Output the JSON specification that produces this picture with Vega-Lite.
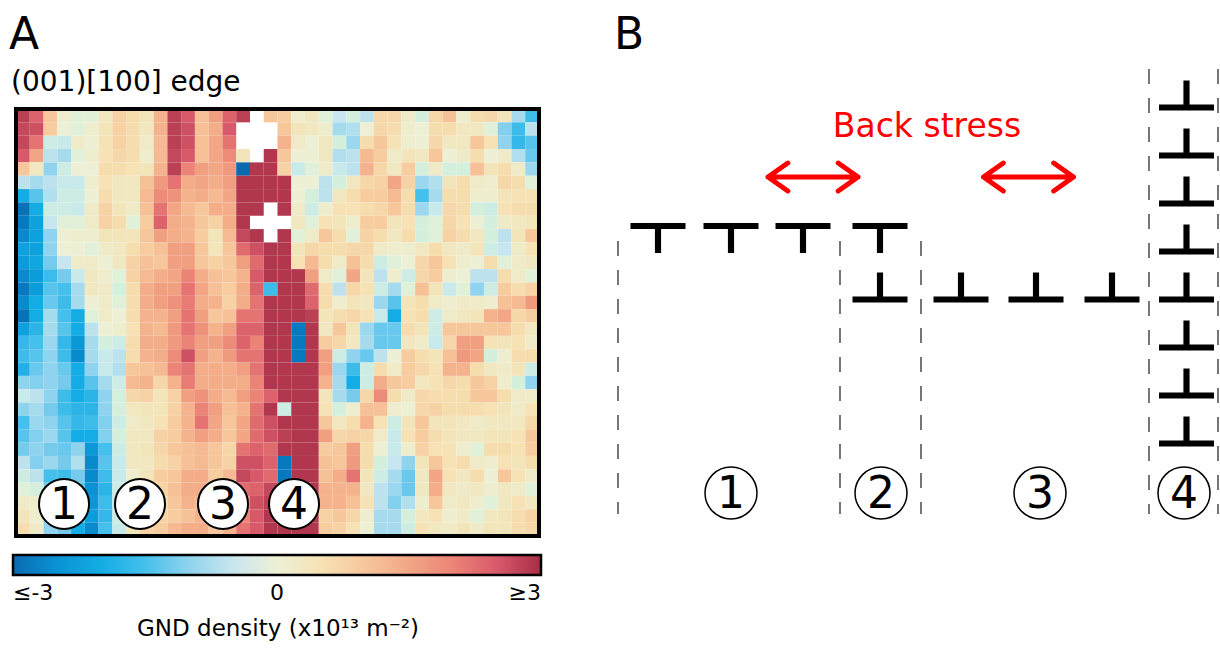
{
"$schema": "https://vega.github.io/schema/vega-lite/v6.json",
"background": "white",
"padding": {"left": 8, "top": 13, "right": 0, "bottom": 0},
"bounds": "flush",
"spacing": 62,
"config": {"font": "DejaVu Sans", "view": {"stroke": null}, "legend": {"labelFontSize": 22, "titleFontSize": 23, "titleLimit": 1000, "labelLimit": 200}},
"datasets": {
"grid": [
{"r":0,"c":0,"v":2.8},{"r":0,"c":1,"v":2.4},{"r":0,"c":2,"v":1.0},{"r":0,"c":3,"v":0.1},{"r":0,"c":4,"v":-0.1},{"r":0,"c":5,"v":-0.1},{"r":0,"c":6,"v":0.3},{"r":0,"c":7,"v":0.8},{"r":0,"c":8,"v":0.6},{"r":0,"c":9,"v":0.4},{"r":0,"c":10,"v":1.3},{"r":0,"c":11,"v":2.8},{"r":0,"c":12,"v":2.5},{"r":0,"c":13,"v":1.1},{"r":0,"c":14,"v":1.6},{"r":0,"c":15,"v":2.4},{"r":0,"c":16,"v":2.8},{"r":0,"c":18,"v":1.0},{"r":0,"c":19,"v":0.9},{"r":0,"c":20,"v":0.1},{"r":0,"c":21,"v":0.3},{"r":0,"c":22,"v":-0.1},{"r":0,"c":23,"v":-0.5},{"r":0,"c":24,"v":-0.2},{"r":0,"c":25,"v":-0.6},{"r":0,"c":26,"v":0.7},{"r":0,"c":27,"v":0.7},{"r":0,"c":28,"v":0.2},{"r":0,"c":29,"v":-0.2},{"r":0,"c":30,"v":0.7},{"r":0,"c":31,"v":1.1},{"r":0,"c":32,"v":0.1},{"r":0,"c":33,"v":0.6},{"r":0,"c":34,"v":0.7},{"r":0,"c":35,"v":0.4},{"r":0,"c":36,"v":-0.8},{"r":0,"c":37,"v":-1.6},
{"r":1,"c":0,"v":2.7},{"r":1,"c":1,"v":2.6},{"r":1,"c":2,"v":0.9},{"r":1,"c":3,"v":0.0},{"r":1,"c":4,"v":-0.1},{"r":1,"c":5,"v":0.1},{"r":1,"c":6,"v":0.4},{"r":1,"c":7,"v":0.8},{"r":1,"c":8,"v":0.6},{"r":1,"c":9,"v":0.3},{"r":1,"c":10,"v":1.3},{"r":1,"c":11,"v":2.8},{"r":1,"c":12,"v":2.6},{"r":1,"c":13,"v":1.1},{"r":1,"c":14,"v":1.4},{"r":1,"c":15,"v":2.5},{"r":1,"c":19,"v":1.0},{"r":1,"c":20,"v":0.4},{"r":1,"c":21,"v":0.3},{"r":1,"c":22,"v":0.1},{"r":1,"c":23,"v":-0.8},{"r":1,"c":24,"v":-0.7},{"r":1,"c":25,"v":0.0},{"r":1,"c":26,"v":0.7},{"r":1,"c":27,"v":0.6},{"r":1,"c":28,"v":0.1},{"r":1,"c":29,"v":0.0},{"r":1,"c":30,"v":0.6},{"r":1,"c":31,"v":0.6},{"r":1,"c":32,"v":0.3},{"r":1,"c":33,"v":0.3},{"r":1,"c":34,"v":-0.1},{"r":1,"c":35,"v":-1.1},{"r":1,"c":36,"v":-1.6},{"r":1,"c":37,"v":-0.6},
{"r":2,"c":0,"v":2.7},{"r":2,"c":1,"v":2.2},{"r":2,"c":2,"v":-0.3},{"r":2,"c":3,"v":-0.4},{"r":2,"c":4,"v":0.2},{"r":2,"c":5,"v":0.0},{"r":2,"c":6,"v":0.5},{"r":2,"c":7,"v":0.8},{"r":2,"c":8,"v":0.6},{"r":2,"c":9,"v":0.2},{"r":2,"c":10,"v":1.2},{"r":2,"c":11,"v":2.8},{"r":2,"c":12,"v":2.6},{"r":2,"c":13,"v":1.1},{"r":2,"c":14,"v":1.5},{"r":2,"c":15,"v":2.2},{"r":2,"c":19,"v":1.3},{"r":2,"c":20,"v":0.2},{"r":2,"c":21,"v":0.0},{"r":2,"c":22,"v":0.3},{"r":2,"c":23,"v":-0.2},{"r":2,"c":24,"v":-0.9},{"r":2,"c":25,"v":0.6},{"r":2,"c":26,"v":1.0},{"r":2,"c":27,"v":0.5},{"r":2,"c":28,"v":0.1},{"r":2,"c":29,"v":0.0},{"r":2,"c":30,"v":0.7},{"r":2,"c":31,"v":0.3},{"r":2,"c":32,"v":0.3},{"r":2,"c":33,"v":1.0},{"r":2,"c":34,"v":0.5},{"r":2,"c":35,"v":-1.0},{"r":2,"c":36,"v":-1.7},{"r":2,"c":37,"v":-1.4},
{"r":3,"c":0,"v":2.5},{"r":3,"c":1,"v":1.5},{"r":3,"c":2,"v":-0.6},{"r":3,"c":3,"v":-0.8},{"r":3,"c":4,"v":-0.1},{"r":3,"c":5,"v":0.1},{"r":3,"c":6,"v":0.5},{"r":3,"c":7,"v":0.7},{"r":3,"c":8,"v":0.6},{"r":3,"c":9,"v":0.1},{"r":3,"c":10,"v":1.2},{"r":3,"c":11,"v":2.7},{"r":3,"c":12,"v":2.5},{"r":3,"c":13,"v":1.1},{"r":3,"c":14,"v":1.5},{"r":3,"c":15,"v":1.9},{"r":3,"c":16,"v":0.4},{"r":3,"c":18,"v":2.9},{"r":3,"c":19,"v":1.0},{"r":3,"c":20,"v":0.0},{"r":3,"c":21,"v":0.0},{"r":3,"c":22,"v":0.3},{"r":3,"c":23,"v":-0.7},{"r":3,"c":24,"v":-0.6},{"r":3,"c":25,"v":1.2},{"r":3,"c":26,"v":0.9},{"r":3,"c":27,"v":0.2},{"r":3,"c":28,"v":0.4},{"r":3,"c":29,"v":0.3},{"r":3,"c":30,"v":1.0},{"r":3,"c":31,"v":0.0},{"r":3,"c":32,"v":0.2},{"r":3,"c":33,"v":0.6},{"r":3,"c":34,"v":0.0},{"r":3,"c":35,"v":0.2},{"r":3,"c":36,"v":-0.7},{"r":3,"c":37,"v":-1.3},
{"r":4,"c":0,"v":1.0},{"r":4,"c":1,"v":0.3},{"r":4,"c":2,"v":-1.0},{"r":4,"c":3,"v":-0.3},{"r":4,"c":4,"v":0.0},{"r":4,"c":5,"v":0.0},{"r":4,"c":6,"v":0.6},{"r":4,"c":7,"v":0.6},{"r":4,"c":8,"v":0.5},{"r":4,"c":9,"v":0.4},{"r":4,"c":10,"v":1.3},{"r":4,"c":11,"v":2.8},{"r":4,"c":12,"v":2.0},{"r":4,"c":13,"v":1.6},{"r":4,"c":14,"v":1.5},{"r":4,"c":15,"v":1.7},{"r":4,"c":16,"v":-3.0},{"r":4,"c":17,"v":2.9},{"r":4,"c":18,"v":2.9},{"r":4,"c":19,"v":0.8},{"r":4,"c":20,"v":-0.4},{"r":4,"c":21,"v":-0.1},{"r":4,"c":22,"v":0.2},{"r":4,"c":23,"v":-0.4},{"r":4,"c":24,"v":-0.6},{"r":4,"c":25,"v":1.3},{"r":4,"c":26,"v":0.7},{"r":4,"c":27,"v":0.3},{"r":4,"c":28,"v":0.9},{"r":4,"c":29,"v":-0.2},{"r":4,"c":30,"v":0.2},{"r":4,"c":31,"v":-0.2},{"r":4,"c":32,"v":-0.2},{"r":4,"c":33,"v":1.1},{"r":4,"c":34,"v":0.4},{"r":4,"c":35,"v":0.6},{"r":4,"c":36,"v":0.2},{"r":4,"c":37,"v":-0.9},
{"r":5,"c":0,"v":-0.6},{"r":5,"c":1,"v":-0.8},{"r":5,"c":2,"v":-0.6},{"r":5,"c":3,"v":-0.4},{"r":5,"c":4,"v":-0.4},{"r":5,"c":5,"v":0.1},{"r":5,"c":6,"v":0.5},{"r":5,"c":7,"v":0.3},{"r":5,"c":8,"v":0.3},{"r":5,"c":9,"v":1.1},{"r":5,"c":10,"v":1.7},{"r":5,"c":11,"v":2.2},{"r":5,"c":12,"v":1.4},{"r":5,"c":13,"v":1.5},{"r":5,"c":14,"v":1.4},{"r":5,"c":15,"v":1.6},{"r":5,"c":16,"v":2.9},{"r":5,"c":17,"v":2.9},{"r":5,"c":18,"v":2.9},{"r":5,"c":19,"v":2.9},{"r":5,"c":20,"v":0.0},{"r":5,"c":21,"v":0.0},{"r":5,"c":22,"v":-0.6},{"r":5,"c":23,"v":-0.2},{"r":5,"c":24,"v":0.3},{"r":5,"c":25,"v":0.7},{"r":5,"c":26,"v":0.8},{"r":5,"c":27,"v":1.5},{"r":5,"c":28,"v":0.8},{"r":5,"c":29,"v":-0.9},{"r":5,"c":30,"v":-0.7},{"r":5,"c":31,"v":0.4},{"r":5,"c":32,"v":0.6},{"r":5,"c":33,"v":0.2},{"r":5,"c":34,"v":0.1},{"r":5,"c":35,"v":0.7},{"r":5,"c":36,"v":0.6},{"r":5,"c":37,"v":-0.1},
{"r":6,"c":0,"v":-2.0},{"r":6,"c":1,"v":-1.4},{"r":6,"c":2,"v":-0.7},{"r":6,"c":3,"v":-0.3},{"r":6,"c":4,"v":-0.3},{"r":6,"c":5,"v":0.0},{"r":6,"c":6,"v":0.6},{"r":6,"c":7,"v":0.3},{"r":6,"c":8,"v":0.3},{"r":6,"c":9,"v":1.2},{"r":6,"c":10,"v":1.9},{"r":6,"c":11,"v":1.8},{"r":6,"c":12,"v":1.3},{"r":6,"c":13,"v":1.4},{"r":6,"c":14,"v":1.2},{"r":6,"c":15,"v":1.5},{"r":6,"c":16,"v":2.9},{"r":6,"c":17,"v":2.9},{"r":6,"c":18,"v":2.9},{"r":6,"c":19,"v":2.9},{"r":6,"c":20,"v":0.0},{"r":6,"c":21,"v":-0.2},{"r":6,"c":22,"v":-0.6},{"r":6,"c":23,"v":0.3},{"r":6,"c":24,"v":0.6},{"r":6,"c":25,"v":0.9},{"r":6,"c":26,"v":0.9},{"r":6,"c":27,"v":1.2},{"r":6,"c":28,"v":0.6},{"r":6,"c":29,"v":-1.5},{"r":6,"c":30,"v":-0.8},{"r":6,"c":31,"v":0.6},{"r":6,"c":32,"v":0.6},{"r":6,"c":33,"v":0.1},{"r":6,"c":34,"v":0.1},{"r":6,"c":35,"v":0.4},{"r":6,"c":36,"v":0.5},{"r":6,"c":37,"v":0.5},
{"r":7,"c":0,"v":-2.9},{"r":7,"c":1,"v":-2.0},{"r":7,"c":2,"v":-0.3},{"r":7,"c":3,"v":-0.3},{"r":7,"c":4,"v":-0.4},{"r":7,"c":5,"v":0.2},{"r":7,"c":6,"v":0.8},{"r":7,"c":7,"v":0.4},{"r":7,"c":8,"v":0.2},{"r":7,"c":9,"v":1.1},{"r":7,"c":10,"v":2.2},{"r":7,"c":11,"v":1.5},{"r":7,"c":12,"v":1.2},{"r":7,"c":13,"v":1.0},{"r":7,"c":14,"v":1.4},{"r":7,"c":15,"v":1.4},{"r":7,"c":16,"v":2.9},{"r":7,"c":17,"v":2.9},{"r":7,"c":19,"v":2.9},{"r":7,"c":20,"v":0.2},{"r":7,"c":21,"v":-0.3},{"r":7,"c":22,"v":0.1},{"r":7,"c":23,"v":0.5},{"r":7,"c":24,"v":0.5},{"r":7,"c":25,"v":0.6},{"r":7,"c":26,"v":0.7},{"r":7,"c":27,"v":1.0},{"r":7,"c":28,"v":0.6},{"r":7,"c":29,"v":-0.9},{"r":7,"c":30,"v":-0.4},{"r":7,"c":31,"v":0.7},{"r":7,"c":32,"v":0.6},{"r":7,"c":33,"v":-0.2},{"r":7,"c":34,"v":-0.3},{"r":7,"c":35,"v":0.5},{"r":7,"c":36,"v":0.6},{"r":7,"c":37,"v":0.6},
{"r":8,"c":0,"v":-2.8},{"r":8,"c":1,"v":-2.2},{"r":8,"c":2,"v":-0.5},{"r":8,"c":3,"v":-0.1},{"r":8,"c":4,"v":-0.1},{"r":8,"c":5,"v":0.2},{"r":8,"c":6,"v":0.8},{"r":8,"c":7,"v":0.6},{"r":8,"c":8,"v":-0.1},{"r":8,"c":9,"v":0.9},{"r":8,"c":10,"v":2.4},{"r":8,"c":11,"v":1.4},{"r":8,"c":12,"v":1.3},{"r":8,"c":13,"v":1.0},{"r":8,"c":14,"v":0.8},{"r":8,"c":15,"v":1.4},{"r":8,"c":16,"v":2.9},{"r":8,"c":20,"v":0.3},{"r":8,"c":21,"v":-0.1},{"r":8,"c":22,"v":0.5},{"r":8,"c":23,"v":0.4},{"r":8,"c":24,"v":0.1},{"r":8,"c":25,"v":0.9},{"r":8,"c":26,"v":0.9},{"r":8,"c":27,"v":0.4},{"r":8,"c":28,"v":0.5},{"r":8,"c":29,"v":-0.2},{"r":8,"c":30,"v":-0.1},{"r":8,"c":31,"v":0.7},{"r":8,"c":32,"v":0.5},{"r":8,"c":33,"v":0.0},{"r":8,"c":34,"v":-0.2},{"r":8,"c":35,"v":0.2},{"r":8,"c":36,"v":0.3},{"r":8,"c":37,"v":0.4},
{"r":9,"c":0,"v":-2.6},{"r":9,"c":1,"v":-2.2},{"r":9,"c":2,"v":-1.0},{"r":9,"c":3,"v":0.0},{"r":9,"c":4,"v":0.1},{"r":9,"c":5,"v":0.1},{"r":9,"c":6,"v":0.4},{"r":9,"c":7,"v":0.4},{"r":9,"c":8,"v":0.4},{"r":9,"c":9,"v":1.0},{"r":9,"c":10,"v":1.6},{"r":9,"c":11,"v":1.4},{"r":9,"c":12,"v":1.3},{"r":9,"c":13,"v":0.9},{"r":9,"c":14,"v":0.4},{"r":9,"c":15,"v":1.2},{"r":9,"c":16,"v":2.7},{"r":9,"c":17,"v":2.9},{"r":9,"c":19,"v":2.9},{"r":9,"c":20,"v":-0.1},{"r":9,"c":21,"v":0.2},{"r":9,"c":22,"v":1.0},{"r":9,"c":23,"v":0.6},{"r":9,"c":24,"v":-0.1},{"r":9,"c":25,"v":0.8},{"r":9,"c":26,"v":0.6},{"r":9,"c":27,"v":0.3},{"r":9,"c":28,"v":0.6},{"r":9,"c":29,"v":-0.2},{"r":9,"c":30,"v":-0.1},{"r":9,"c":31,"v":0.8},{"r":9,"c":32,"v":0.6},{"r":9,"c":33,"v":0.3},{"r":9,"c":34,"v":-0.2},{"r":9,"c":35,"v":-0.6},{"r":9,"c":36,"v":0.4},{"r":9,"c":37,"v":1.0},
{"r":10,"c":0,"v":-2.2},{"r":10,"c":1,"v":-2.2},{"r":10,"c":2,"v":-1.0},{"r":10,"c":3,"v":0.0},{"r":10,"c":4,"v":0.0},{"r":10,"c":5,"v":-0.1},{"r":10,"c":6,"v":0.2},{"r":10,"c":7,"v":0.3},{"r":10,"c":8,"v":0.6},{"r":10,"c":9,"v":0.9},{"r":10,"c":10,"v":1.1},{"r":10,"c":11,"v":1.6},{"r":10,"c":12,"v":1.6},{"r":10,"c":13,"v":1.0},{"r":10,"c":14,"v":0.4},{"r":10,"c":15,"v":1.0},{"r":10,"c":16,"v":2.3},{"r":10,"c":17,"v":2.6},{"r":10,"c":18,"v":2.9},{"r":10,"c":19,"v":2.9},{"r":10,"c":20,"v":0.4},{"r":10,"c":21,"v":0.7},{"r":10,"c":22,"v":0.6},{"r":10,"c":23,"v":0.6},{"r":10,"c":24,"v":0.7},{"r":10,"c":25,"v":0.7},{"r":10,"c":26,"v":0.2},{"r":10,"c":27,"v":0.1},{"r":10,"c":28,"v":0.1},{"r":10,"c":29,"v":0.3},{"r":10,"c":30,"v":0.6},{"r":10,"c":31,"v":0.3},{"r":10,"c":32,"v":0.2},{"r":10,"c":33,"v":0.4},{"r":10,"c":34,"v":-0.3},{"r":10,"c":35,"v":-0.5},{"r":10,"c":36,"v":0.2},{"r":10,"c":37,"v":0.5},
{"r":11,"c":0,"v":-2.3},{"r":11,"c":1,"v":-2.1},{"r":11,"c":2,"v":-1.2},{"r":11,"c":3,"v":-0.5},{"r":11,"c":4,"v":0.2},{"r":11,"c":5,"v":0.2},{"r":11,"c":6,"v":0.0},{"r":11,"c":7,"v":0.3},{"r":11,"c":8,"v":0.8},{"r":11,"c":9,"v":1.1},{"r":11,"c":10,"v":1.0},{"r":11,"c":11,"v":1.6},{"r":11,"c":12,"v":1.6},{"r":11,"c":13,"v":1.0},{"r":11,"c":14,"v":0.8},{"r":11,"c":15,"v":1.0},{"r":11,"c":16,"v":1.6},{"r":11,"c":17,"v":2.3},{"r":11,"c":18,"v":2.9},{"r":11,"c":19,"v":2.9},{"r":11,"c":20,"v":0.5},{"r":11,"c":21,"v":1.2},{"r":11,"c":22,"v":0.6},{"r":11,"c":23,"v":0.2},{"r":11,"c":24,"v":1.1},{"r":11,"c":25,"v":0.6},{"r":11,"c":26,"v":-0.3},{"r":11,"c":27,"v":-0.1},{"r":11,"c":28,"v":0.0},{"r":11,"c":29,"v":0.7},{"r":11,"c":30,"v":1.0},{"r":11,"c":31,"v":0.5},{"r":11,"c":32,"v":0.1},{"r":11,"c":33,"v":0.0},{"r":11,"c":34,"v":0.6},{"r":11,"c":35,"v":-0.1},{"r":11,"c":36,"v":0.2},{"r":11,"c":37,"v":0.3},
{"r":12,"c":0,"v":-2.6},{"r":12,"c":1,"v":-2.3},{"r":12,"c":2,"v":-1.6},{"r":12,"c":3,"v":-1.2},{"r":12,"c":4,"v":-0.4},{"r":12,"c":5,"v":0.3},{"r":12,"c":6,"v":0.1},{"r":12,"c":7,"v":-0.1},{"r":12,"c":8,"v":0.8},{"r":12,"c":9,"v":1.2},{"r":12,"c":10,"v":1.4},{"r":12,"c":11,"v":1.5},{"r":12,"c":12,"v":2.0},{"r":12,"c":13,"v":1.4},{"r":12,"c":14,"v":1.1},{"r":12,"c":15,"v":1.0},{"r":12,"c":16,"v":1.3},{"r":12,"c":17,"v":2.5},{"r":12,"c":18,"v":2.9},{"r":12,"c":19,"v":2.9},{"r":12,"c":20,"v":2.9},{"r":12,"c":21,"v":1.6},{"r":12,"c":22,"v":0.2},{"r":12,"c":23,"v":-0.1},{"r":12,"c":24,"v":1.5},{"r":12,"c":25,"v":0.4},{"r":12,"c":26,"v":-0.6},{"r":12,"c":27,"v":0.1},{"r":12,"c":28,"v":-0.3},{"r":12,"c":29,"v":0.7},{"r":12,"c":30,"v":0.9},{"r":12,"c":31,"v":0.1},{"r":12,"c":32,"v":0.0},{"r":12,"c":33,"v":-0.6},{"r":12,"c":34,"v":-0.6},{"r":12,"c":35,"v":0.6},{"r":12,"c":36,"v":0.2},{"r":12,"c":37,"v":-0.1},
{"r":13,"c":0,"v":-2.8},{"r":13,"c":1,"v":-2.3},{"r":13,"c":2,"v":-1.4},{"r":13,"c":3,"v":-1.5},{"r":13,"c":4,"v":-0.8},{"r":13,"c":5,"v":0.3},{"r":13,"c":6,"v":0.2},{"r":13,"c":7,"v":-0.2},{"r":13,"c":8,"v":0.6},{"r":13,"c":9,"v":1.4},{"r":13,"c":10,"v":1.6},{"r":13,"c":11,"v":1.6},{"r":13,"c":12,"v":2.2},{"r":13,"c":13,"v":1.5},{"r":13,"c":14,"v":1.1},{"r":13,"c":15,"v":0.9},{"r":13,"c":16,"v":1.4},{"r":13,"c":17,"v":2.4},{"r":13,"c":18,"v":-1.6},{"r":13,"c":19,"v":2.9},{"r":13,"c":20,"v":2.9},{"r":13,"c":21,"v":2.3},{"r":13,"c":22,"v":0.6},{"r":13,"c":23,"v":-0.6},{"r":13,"c":24,"v":0.7},{"r":13,"c":25,"v":0.5},{"r":13,"c":26,"v":-0.3},{"r":13,"c":27,"v":-0.8},{"r":13,"c":28,"v":-0.1},{"r":13,"c":29,"v":1.1},{"r":13,"c":30,"v":0.4},{"r":13,"c":31,"v":-0.4},{"r":13,"c":32,"v":-0.1},{"r":13,"c":33,"v":-1.0},{"r":13,"c":34,"v":-0.3},{"r":13,"c":35,"v":0.9},{"r":13,"c":36,"v":0.6},{"r":13,"c":37,"v":0.8},
{"r":14,"c":0,"v":-2.6},{"r":14,"c":1,"v":-2.0},{"r":14,"c":2,"v":-1.3},{"r":14,"c":3,"v":-1.6},{"r":14,"c":4,"v":-0.8},{"r":14,"c":5,"v":0.0},{"r":14,"c":6,"v":0.2},{"r":14,"c":7,"v":-0.1},{"r":14,"c":8,"v":0.6},{"r":14,"c":9,"v":1.4},{"r":14,"c":10,"v":1.6},{"r":14,"c":11,"v":1.8},{"r":14,"c":12,"v":2.1},{"r":14,"c":13,"v":1.4},{"r":14,"c":14,"v":1.3},{"r":14,"c":15,"v":0.8},{"r":14,"c":16,"v":1.4},{"r":14,"c":17,"v":2.2},{"r":14,"c":18,"v":2.9},{"r":14,"c":19,"v":2.9},{"r":14,"c":20,"v":2.9},{"r":14,"c":21,"v":2.4},{"r":14,"c":22,"v":0.6},{"r":14,"c":23,"v":0.1},{"r":14,"c":24,"v":0.4},{"r":14,"c":25,"v":0.3},{"r":14,"c":26,"v":-0.9},{"r":14,"c":27,"v":-1.4},{"r":14,"c":28,"v":0.4},{"r":14,"c":29,"v":0.6},{"r":14,"c":30,"v":0.2},{"r":14,"c":31,"v":0.1},{"r":14,"c":32,"v":0.2},{"r":14,"c":33,"v":0.2},{"r":14,"c":34,"v":0.1},{"r":14,"c":35,"v":1.1},{"r":14,"c":36,"v":1.2},{"r":14,"c":37,"v":1.7},
{"r":15,"c":0,"v":-2.9},{"r":15,"c":1,"v":-2.0},{"r":15,"c":2,"v":-0.8},{"r":15,"c":3,"v":-1.5},{"r":15,"c":4,"v":-2.0},{"r":15,"c":5,"v":-0.1},{"r":15,"c":6,"v":0.2},{"r":15,"c":7,"v":0.0},{"r":15,"c":8,"v":0.6},{"r":15,"c":9,"v":1.3},{"r":15,"c":10,"v":1.3},{"r":15,"c":11,"v":1.6},{"r":15,"c":12,"v":2.2},{"r":15,"c":13,"v":1.6},{"r":15,"c":14,"v":1.0},{"r":15,"c":15,"v":1.1},{"r":15,"c":16,"v":2.2},{"r":15,"c":17,"v":2.2},{"r":15,"c":18,"v":2.9},{"r":15,"c":19,"v":2.9},{"r":15,"c":20,"v":2.9},{"r":15,"c":21,"v":2.8},{"r":15,"c":22,"v":0.4},{"r":15,"c":23,"v":0.6},{"r":15,"c":24,"v":0.7},{"r":15,"c":25,"v":0.5},{"r":15,"c":26,"v":-0.4},{"r":15,"c":27,"v":-2.0},{"r":15,"c":28,"v":0.5},{"r":15,"c":29,"v":0.6},{"r":15,"c":30,"v":-0.3},{"r":15,"c":31,"v":0.2},{"r":15,"c":32,"v":0.3},{"r":15,"c":33,"v":0.4},{"r":15,"c":34,"v":1.3},{"r":15,"c":35,"v":1.5},{"r":15,"c":36,"v":0.7},{"r":15,"c":37,"v":0.9},
{"r":16,"c":0,"v":-2.2},{"r":16,"c":1,"v":-1.8},{"r":16,"c":2,"v":-0.8},{"r":16,"c":3,"v":-1.4},{"r":16,"c":4,"v":-2.0},{"r":16,"c":5,"v":-0.6},{"r":16,"c":6,"v":0.0},{"r":16,"c":7,"v":0.1},{"r":16,"c":8,"v":0.5},{"r":16,"c":9,"v":1.3},{"r":16,"c":10,"v":1.2},{"r":16,"c":11,"v":1.7},{"r":16,"c":12,"v":2.2},{"r":16,"c":13,"v":1.8},{"r":16,"c":14,"v":1.3},{"r":16,"c":15,"v":1.6},{"r":16,"c":16,"v":2.4},{"r":16,"c":17,"v":2.4},{"r":16,"c":18,"v":2.9},{"r":16,"c":19,"v":2.9},{"r":16,"c":20,"v":-2.8},{"r":16,"c":21,"v":2.9},{"r":16,"c":22,"v":0.3},{"r":16,"c":23,"v":1.0},{"r":16,"c":24,"v":0.4},{"r":16,"c":25,"v":-0.9},{"r":16,"c":26,"v":-1.3},{"r":16,"c":27,"v":-1.3},{"r":16,"c":28,"v":0.6},{"r":16,"c":29,"v":0.4},{"r":16,"c":30,"v":-0.3},{"r":16,"c":31,"v":1.0},{"r":16,"c":32,"v":1.0},{"r":16,"c":33,"v":1.0},{"r":16,"c":34,"v":1.0},{"r":16,"c":35,"v":1.0},{"r":16,"c":36,"v":0.6},{"r":16,"c":37,"v":0.3},
{"r":17,"c":0,"v":-1.7},{"r":17,"c":1,"v":-1.5},{"r":17,"c":2,"v":-0.9},{"r":17,"c":3,"v":-1.7},{"r":17,"c":4,"v":-2.4},{"r":17,"c":5,"v":-0.8},{"r":17,"c":6,"v":-0.2},{"r":17,"c":7,"v":-0.3},{"r":17,"c":8,"v":0.6},{"r":17,"c":9,"v":1.4},{"r":17,"c":10,"v":1.4},{"r":17,"c":11,"v":1.7},{"r":17,"c":12,"v":2.0},{"r":17,"c":13,"v":1.6},{"r":17,"c":14,"v":1.6},{"r":17,"c":15,"v":1.9},{"r":17,"c":16,"v":2.4},{"r":17,"c":17,"v":2.0},{"r":17,"c":18,"v":2.9},{"r":17,"c":19,"v":2.9},{"r":17,"c":20,"v":-2.8},{"r":17,"c":21,"v":2.9},{"r":17,"c":22,"v":0.9},{"r":17,"c":23,"v":0.7},{"r":17,"c":24,"v":0.3},{"r":17,"c":25,"v":-0.8},{"r":17,"c":26,"v":-1.3},{"r":17,"c":27,"v":-1.3},{"r":17,"c":28,"v":0.3},{"r":17,"c":29,"v":0.2},{"r":17,"c":30,"v":-0.4},{"r":17,"c":31,"v":0.7},{"r":17,"c":32,"v":1.6},{"r":17,"c":33,"v":1.6},{"r":17,"c":34,"v":0.5},{"r":17,"c":35,"v":0.4},{"r":17,"c":36,"v":0.5},{"r":17,"c":37,"v":0.2},
{"r":18,"c":0,"v":-1.6},{"r":18,"c":1,"v":-1.4},{"r":18,"c":2,"v":-1.0},{"r":18,"c":3,"v":-1.6},{"r":18,"c":4,"v":-2.6},{"r":18,"c":5,"v":-0.8},{"r":18,"c":6,"v":-0.4},{"r":18,"c":7,"v":-0.6},{"r":18,"c":8,"v":0.6},{"r":18,"c":9,"v":1.3},{"r":18,"c":10,"v":1.4},{"r":18,"c":11,"v":1.9},{"r":18,"c":12,"v":2.6},{"r":18,"c":13,"v":1.6},{"r":18,"c":14,"v":1.3},{"r":18,"c":15,"v":1.7},{"r":18,"c":16,"v":2.2},{"r":18,"c":17,"v":2.2},{"r":18,"c":18,"v":2.9},{"r":18,"c":19,"v":2.9},{"r":18,"c":20,"v":-2.8},{"r":18,"c":21,"v":2.9},{"r":18,"c":22,"v":1.6},{"r":18,"c":23,"v":-0.3},{"r":18,"c":24,"v":-1.0},{"r":18,"c":25,"v":-1.3},{"r":18,"c":26,"v":-0.6},{"r":18,"c":27,"v":0.0},{"r":18,"c":28,"v":0.9},{"r":18,"c":29,"v":0.6},{"r":18,"c":30,"v":0.4},{"r":18,"c":31,"v":1.1},{"r":18,"c":32,"v":1.7},{"r":18,"c":33,"v":1.5},{"r":18,"c":34,"v":-0.2},{"r":18,"c":35,"v":0.1},{"r":18,"c":36,"v":0.6},{"r":18,"c":37,"v":0.6},
{"r":19,"c":0,"v":-1.9},{"r":19,"c":1,"v":-1.3},{"r":19,"c":2,"v":-1.0},{"r":19,"c":3,"v":-1.3},{"r":19,"c":4,"v":-2.0},{"r":19,"c":5,"v":-1.0},{"r":19,"c":6,"v":-0.4},{"r":19,"c":7,"v":-0.7},{"r":19,"c":8,"v":1.0},{"r":19,"c":9,"v":1.1},{"r":19,"c":10,"v":1.2},{"r":19,"c":11,"v":2.0},{"r":19,"c":12,"v":2.2},{"r":19,"c":13,"v":1.4},{"r":19,"c":14,"v":1.4},{"r":19,"c":15,"v":1.4},{"r":19,"c":16,"v":1.6},{"r":19,"c":17,"v":2.2},{"r":19,"c":18,"v":2.9},{"r":19,"c":19,"v":2.9},{"r":19,"c":20,"v":2.9},{"r":19,"c":21,"v":2.9},{"r":19,"c":22,"v":1.6},{"r":19,"c":23,"v":-0.9},{"r":19,"c":24,"v":-1.6},{"r":19,"c":25,"v":-0.3},{"r":19,"c":26,"v":0.6},{"r":19,"c":27,"v":0.2},{"r":19,"c":28,"v":0.9},{"r":19,"c":29,"v":0.7},{"r":19,"c":30,"v":0.5},{"r":19,"c":31,"v":1.3},{"r":19,"c":32,"v":1.3},{"r":19,"c":33,"v":0.6},{"r":19,"c":34,"v":0.3},{"r":19,"c":35,"v":0.2},{"r":19,"c":36,"v":0.4},{"r":19,"c":37,"v":-0.3},
{"r":20,"c":0,"v":-1.0},{"r":20,"c":1,"v":-1.1},{"r":20,"c":2,"v":-1.0},{"r":20,"c":3,"v":-1.2},{"r":20,"c":4,"v":-2.0},{"r":20,"c":5,"v":-1.4},{"r":20,"c":6,"v":-0.8},{"r":20,"c":7,"v":-0.3},{"r":20,"c":8,"v":1.2},{"r":20,"c":9,"v":1.3},{"r":20,"c":10,"v":0.7},{"r":20,"c":11,"v":1.3},{"r":20,"c":12,"v":2.1},{"r":20,"c":13,"v":1.4},{"r":20,"c":14,"v":1.4},{"r":20,"c":15,"v":1.4},{"r":20,"c":16,"v":1.4},{"r":20,"c":17,"v":2.0},{"r":20,"c":18,"v":2.9},{"r":20,"c":19,"v":2.9},{"r":20,"c":20,"v":2.9},{"r":20,"c":21,"v":2.9},{"r":20,"c":22,"v":1.3},{"r":20,"c":23,"v":-0.8},{"r":20,"c":24,"v":-2.0},{"r":20,"c":25,"v":-0.3},{"r":20,"c":26,"v":1.4},{"r":20,"c":27,"v":1.0},{"r":20,"c":28,"v":0.9},{"r":20,"c":29,"v":0.3},{"r":20,"c":30,"v":0.5},{"r":20,"c":31,"v":0.7},{"r":20,"c":32,"v":0.6},{"r":20,"c":33,"v":1.0},{"r":20,"c":34,"v":0.8},{"r":20,"c":35,"v":0.1},{"r":20,"c":36,"v":-0.2},{"r":20,"c":37,"v":-1.0},
{"r":21,"c":0,"v":-0.4},{"r":21,"c":1,"v":-0.6},{"r":21,"c":2,"v":-1.0},{"r":21,"c":3,"v":-1.6},{"r":21,"c":4,"v":-2.0},{"r":21,"c":5,"v":-1.8},{"r":21,"c":6,"v":-1.0},{"r":21,"c":7,"v":-0.2},{"r":21,"c":8,"v":0.7},{"r":21,"c":9,"v":0.8},{"r":21,"c":10,"v":0.4},{"r":21,"c":11,"v":0.8},{"r":21,"c":12,"v":1.6},{"r":21,"c":13,"v":1.8},{"r":21,"c":14,"v":1.4},{"r":21,"c":15,"v":1.2},{"r":21,"c":16,"v":1.6},{"r":21,"c":17,"v":2.0},{"r":21,"c":18,"v":2.4},{"r":21,"c":19,"v":2.9},{"r":21,"c":20,"v":2.9},{"r":21,"c":21,"v":2.9},{"r":21,"c":22,"v":0.4},{"r":21,"c":23,"v":-0.8},{"r":21,"c":24,"v":-1.2},{"r":21,"c":25,"v":0.7},{"r":21,"c":26,"v":1.9},{"r":21,"c":27,"v":0.6},{"r":21,"c":28,"v":0.2},{"r":21,"c":29,"v":0.7},{"r":21,"c":30,"v":0.6},{"r":21,"c":31,"v":0.6},{"r":21,"c":32,"v":0.6},{"r":21,"c":33,"v":1.0},{"r":21,"c":34,"v":1.0},{"r":21,"c":35,"v":0.6},{"r":21,"c":36,"v":0.2},{"r":21,"c":37,"v":0.2},
{"r":22,"c":0,"v":-1.0},{"r":22,"c":1,"v":-0.8},{"r":22,"c":2,"v":-1.2},{"r":22,"c":3,"v":-1.6},{"r":22,"c":4,"v":-1.8},{"r":22,"c":5,"v":-1.8},{"r":22,"c":6,"v":-1.0},{"r":22,"c":7,"v":-0.2},{"r":22,"c":8,"v":0.3},{"r":22,"c":9,"v":0.4},{"r":22,"c":10,"v":0.4},{"r":22,"c":11,"v":0.8},{"r":22,"c":12,"v":1.3},{"r":22,"c":13,"v":2.0},{"r":22,"c":14,"v":1.6},{"r":22,"c":15,"v":1.1},{"r":22,"c":16,"v":1.3},{"r":22,"c":17,"v":2.2},{"r":22,"c":18,"v":2.9},{"r":22,"c":19,"v":-0.3},{"r":22,"c":20,"v":2.9},{"r":22,"c":21,"v":2.9},{"r":22,"c":22,"v":0.5},{"r":22,"c":23,"v":-0.2},{"r":22,"c":24,"v":0.1},{"r":22,"c":25,"v":1.1},{"r":22,"c":26,"v":1.1},{"r":22,"c":27,"v":0.1},{"r":22,"c":28,"v":0.0},{"r":22,"c":29,"v":0.7},{"r":22,"c":30,"v":0.8},{"r":22,"c":31,"v":0.6},{"r":22,"c":32,"v":0.6},{"r":22,"c":33,"v":0.6},{"r":22,"c":34,"v":0.5},{"r":22,"c":35,"v":0.4},{"r":22,"c":36,"v":0.2},{"r":22,"c":37,"v":0.5},
{"r":23,"c":0,"v":-1.5},{"r":23,"c":1,"v":-0.9},{"r":23,"c":2,"v":-1.0},{"r":23,"c":3,"v":-1.4},{"r":23,"c":4,"v":-1.7},{"r":23,"c":5,"v":-1.6},{"r":23,"c":6,"v":-1.1},{"r":23,"c":7,"v":-0.3},{"r":23,"c":8,"v":0.2},{"r":23,"c":9,"v":0.3},{"r":23,"c":10,"v":0.5},{"r":23,"c":11,"v":0.9},{"r":23,"c":12,"v":1.3},{"r":23,"c":13,"v":2.2},{"r":23,"c":14,"v":1.5},{"r":23,"c":15,"v":1.0},{"r":23,"c":16,"v":1.5},{"r":23,"c":17,"v":2.3},{"r":23,"c":18,"v":2.6},{"r":23,"c":19,"v":2.9},{"r":23,"c":20,"v":2.9},{"r":23,"c":21,"v":2.9},{"r":23,"c":22,"v":1.0},{"r":23,"c":23,"v":0.3},{"r":23,"c":24,"v":0.6},{"r":23,"c":25,"v":1.3},{"r":23,"c":26,"v":0.5},{"r":23,"c":27,"v":-0.3},{"r":23,"c":28,"v":0.4},{"r":23,"c":29,"v":1.0},{"r":23,"c":30,"v":0.4},{"r":23,"c":31,"v":0.4},{"r":23,"c":32,"v":0.3},{"r":23,"c":33,"v":0.2},{"r":23,"c":34,"v":0.3},{"r":23,"c":35,"v":0.3},{"r":23,"c":36,"v":0.3},{"r":23,"c":37,"v":0.7},
{"r":24,"c":0,"v":-1.4},{"r":24,"c":1,"v":-1.1},{"r":24,"c":2,"v":-0.9},{"r":24,"c":3,"v":-1.4},{"r":24,"c":4,"v":-2.0},{"r":24,"c":5,"v":-2.0},{"r":24,"c":6,"v":-1.1},{"r":24,"c":7,"v":-0.2},{"r":24,"c":8,"v":0.3},{"r":24,"c":9,"v":0.3},{"r":24,"c":10,"v":0.8},{"r":24,"c":11,"v":0.9},{"r":24,"c":12,"v":1.3},{"r":24,"c":13,"v":1.6},{"r":24,"c":14,"v":1.4},{"r":24,"c":15,"v":1.0},{"r":24,"c":16,"v":1.5},{"r":24,"c":17,"v":2.3},{"r":24,"c":18,"v":2.6},{"r":24,"c":19,"v":2.8},{"r":24,"c":20,"v":2.9},{"r":24,"c":21,"v":2.9},{"r":24,"c":22,"v":1.6},{"r":24,"c":23,"v":0.7},{"r":24,"c":24,"v":0.8},{"r":24,"c":25,"v":0.7},{"r":24,"c":26,"v":0.2},{"r":24,"c":27,"v":-0.4},{"r":24,"c":28,"v":0.5},{"r":24,"c":29,"v":0.9},{"r":24,"c":30,"v":0.6},{"r":24,"c":31,"v":0.4},{"r":24,"c":32,"v":0.3},{"r":24,"c":33,"v":0.3},{"r":24,"c":34,"v":0.4},{"r":24,"c":35,"v":0.4},{"r":24,"c":36,"v":0.5},{"r":24,"c":37,"v":1.0},
{"r":25,"c":0,"v":-1.2},{"r":25,"c":1,"v":-1.0},{"r":25,"c":2,"v":-1.2},{"r":25,"c":3,"v":-1.3},{"r":25,"c":4,"v":-1.0},{"r":25,"c":5,"v":-2.4},{"r":25,"c":6,"v":-1.5},{"r":25,"c":7,"v":-0.3},{"r":25,"c":8,"v":0.3},{"r":25,"c":9,"v":0.4},{"r":25,"c":10,"v":0.7},{"r":25,"c":11,"v":1.0},{"r":25,"c":12,"v":1.1},{"r":25,"c":13,"v":1.2},{"r":25,"c":14,"v":1.0},{"r":25,"c":15,"v":0.7},{"r":25,"c":16,"v":2.2},{"r":25,"c":17,"v":2.4},{"r":25,"c":18,"v":2.3},{"r":25,"c":19,"v":2.9},{"r":25,"c":20,"v":2.9},{"r":25,"c":21,"v":2.9},{"r":25,"c":22,"v":0.9},{"r":25,"c":23,"v":1.0},{"r":25,"c":24,"v":1.6},{"r":25,"c":25,"v":0.6},{"r":25,"c":26,"v":0.0},{"r":25,"c":27,"v":-0.4},{"r":25,"c":28,"v":0.1},{"r":25,"c":29,"v":0.8},{"r":25,"c":30,"v":0.5},{"r":25,"c":31,"v":0.5},{"r":25,"c":32,"v":0.1},{"r":25,"c":33,"v":-0.1},{"r":25,"c":34,"v":0.6},{"r":25,"c":35,"v":0.6},{"r":25,"c":36,"v":0.5},{"r":25,"c":37,"v":0.9},
{"r":26,"c":0,"v":-0.6},{"r":26,"c":1,"v":-1.1},{"r":26,"c":2,"v":-0.9},{"r":26,"c":3,"v":-1.2},{"r":26,"c":4,"v":-0.7},{"r":26,"c":5,"v":-2.6},{"r":26,"c":6,"v":-1.4},{"r":26,"c":7,"v":-0.4},{"r":26,"c":8,"v":0.3},{"r":26,"c":9,"v":0.3},{"r":26,"c":10,"v":0.6},{"r":26,"c":11,"v":0.8},{"r":26,"c":12,"v":1.1},{"r":26,"c":13,"v":1.2},{"r":26,"c":14,"v":1.0},{"r":26,"c":15,"v":0.8},{"r":26,"c":16,"v":2.6},{"r":26,"c":17,"v":2.6},{"r":26,"c":18,"v":2.4},{"r":26,"c":19,"v":-2.8},{"r":26,"c":20,"v":2.9},{"r":26,"c":21,"v":2.9},{"r":26,"c":22,"v":1.1},{"r":26,"c":23,"v":1.0},{"r":26,"c":24,"v":1.7},{"r":26,"c":25,"v":0.6},{"r":26,"c":26,"v":-0.2},{"r":26,"c":27,"v":-0.5},{"r":26,"c":28,"v":-1.0},{"r":26,"c":29,"v":0.4},{"r":26,"c":30,"v":1.0},{"r":26,"c":31,"v":0.5},{"r":26,"c":32,"v":0.6},{"r":26,"c":33,"v":0.2},{"r":26,"c":34,"v":0.1},{"r":26,"c":35,"v":0.5},{"r":26,"c":36,"v":0.4},{"r":26,"c":37,"v":0.6},
{"r":27,"c":0,"v":-0.3},{"r":27,"c":1,"v":-0.6},{"r":27,"c":2,"v":-1.5},{"r":27,"c":3,"v":-1.6},{"r":27,"c":4,"v":-1.2},{"r":27,"c":5,"v":-2.6},{"r":27,"c":6,"v":-1.6},{"r":27,"c":7,"v":-0.4},{"r":27,"c":8,"v":0.1},{"r":27,"c":9,"v":0.4},{"r":27,"c":10,"v":0.9},{"r":27,"c":11,"v":1.0},{"r":27,"c":12,"v":1.4},{"r":27,"c":13,"v":1.4},{"r":27,"c":14,"v":0.9},{"r":27,"c":15,"v":1.2},{"r":27,"c":16,"v":2.7},{"r":27,"c":17,"v":2.5},{"r":27,"c":18,"v":2.3},{"r":27,"c":19,"v":-2.8},{"r":27,"c":20,"v":2.9},{"r":27,"c":21,"v":2.9},{"r":27,"c":22,"v":1.1},{"r":27,"c":23,"v":1.4},{"r":27,"c":24,"v":2.2},{"r":27,"c":25,"v":0.4},{"r":27,"c":26,"v":-0.3},{"r":27,"c":27,"v":-0.8},{"r":27,"c":28,"v":-1.3},{"r":27,"c":29,"v":0.3},{"r":27,"c":30,"v":1.5},{"r":27,"c":31,"v":0.5},{"r":27,"c":32,"v":0.3},{"r":27,"c":33,"v":0.6},{"r":27,"c":34,"v":0.0},{"r":27,"c":35,"v":1.0},{"r":27,"c":36,"v":0.5},{"r":27,"c":37,"v":0.2},
{"r":28,"c":0,"v":-0.1},{"r":28,"c":1,"v":-0.2},{"r":28,"c":2,"v":-1.2},{"r":28,"c":3,"v":-1.6},{"r":28,"c":4,"v":-1.4},{"r":28,"c":5,"v":-2.5},{"r":28,"c":6,"v":-1.8},{"r":28,"c":7,"v":-0.3},{"r":28,"c":8,"v":0.2},{"r":28,"c":9,"v":0.5},{"r":28,"c":10,"v":0.8},{"r":28,"c":11,"v":1.1},{"r":28,"c":12,"v":1.4},{"r":28,"c":13,"v":1.4},{"r":28,"c":14,"v":0.9},{"r":28,"c":15,"v":1.0},{"r":28,"c":16,"v":2.3},{"r":28,"c":17,"v":2.4},{"r":28,"c":18,"v":2.7},{"r":28,"c":19,"v":2.9},{"r":28,"c":20,"v":2.9},{"r":28,"c":21,"v":2.9},{"r":28,"c":22,"v":1.3},{"r":28,"c":23,"v":1.3},{"r":28,"c":24,"v":1.3},{"r":28,"c":25,"v":0.3},{"r":28,"c":26,"v":-0.6},{"r":28,"c":27,"v":-0.9},{"r":28,"c":28,"v":-1.3},{"r":28,"c":29,"v":0.3},{"r":28,"c":30,"v":1.4},{"r":28,"c":31,"v":0.3},{"r":28,"c":32,"v":0.2},{"r":28,"c":33,"v":0.3},{"r":28,"c":34,"v":0.1},{"r":28,"c":35,"v":0.3},{"r":28,"c":36,"v":0.2},{"r":28,"c":37,"v":-0.1},
{"r":29,"c":0,"v":0.2},{"r":29,"c":1,"v":0.1},{"r":29,"c":2,"v":-1.4},{"r":29,"c":3,"v":-1.5},{"r":29,"c":4,"v":-1.1},{"r":29,"c":5,"v":-2.4},{"r":29,"c":6,"v":-1.6},{"r":29,"c":7,"v":-0.4},{"r":29,"c":8,"v":0.0},{"r":29,"c":9,"v":0.5},{"r":29,"c":10,"v":0.6},{"r":29,"c":11,"v":1.0},{"r":29,"c":12,"v":1.3},{"r":29,"c":13,"v":1.2},{"r":29,"c":14,"v":0.6},{"r":29,"c":15,"v":1.1},{"r":29,"c":16,"v":1.8},{"r":29,"c":17,"v":2.6},{"r":29,"c":18,"v":2.8},{"r":29,"c":19,"v":2.9},{"r":29,"c":20,"v":2.9},{"r":29,"c":21,"v":2.9},{"r":29,"c":22,"v":1.3},{"r":29,"c":23,"v":1.3},{"r":29,"c":24,"v":1.1},{"r":29,"c":25,"v":0.5},{"r":29,"c":26,"v":-0.6},{"r":29,"c":27,"v":-1.1},{"r":29,"c":28,"v":-0.7},{"r":29,"c":29,"v":0.1},{"r":29,"c":30,"v":1.0},{"r":29,"c":31,"v":0.2},{"r":29,"c":32,"v":0.3},{"r":29,"c":33,"v":0.1},{"r":29,"c":34,"v":-0.1},{"r":29,"c":35,"v":0.3},{"r":29,"c":36,"v":0.5},{"r":29,"c":37,"v":0.3},
{"r":30,"c":0,"v":0.4},{"r":30,"c":1,"v":0.1},{"r":30,"c":2,"v":-1.2},{"r":30,"c":3,"v":-1.3},{"r":30,"c":4,"v":-1.5},{"r":30,"c":5,"v":-2.3},{"r":30,"c":6,"v":-1.7},{"r":30,"c":7,"v":-0.3},{"r":30,"c":8,"v":0.3},{"r":30,"c":9,"v":0.6},{"r":30,"c":10,"v":0.8},{"r":30,"c":11,"v":0.9},{"r":30,"c":12,"v":1.1},{"r":30,"c":13,"v":1.3},{"r":30,"c":14,"v":0.8},{"r":30,"c":15,"v":1.2},{"r":30,"c":16,"v":2.0},{"r":30,"c":17,"v":2.5},{"r":30,"c":18,"v":2.9},{"r":30,"c":19,"v":2.9},{"r":30,"c":20,"v":2.9},{"r":30,"c":21,"v":2.9},{"r":30,"c":22,"v":0.8},{"r":30,"c":23,"v":1.0},{"r":30,"c":24,"v":0.7},{"r":30,"c":25,"v":0.1},{"r":30,"c":26,"v":-0.8},{"r":30,"c":27,"v":-0.8},{"r":30,"c":28,"v":-0.2},{"r":30,"c":29,"v":0.3},{"r":30,"c":30,"v":0.5},{"r":30,"c":31,"v":0.1},{"r":30,"c":32,"v":0.2},{"r":30,"c":33,"v":-0.1},{"r":30,"c":34,"v":0.3},{"r":30,"c":35,"v":0.4},{"r":30,"c":36,"v":0.6},{"r":30,"c":37,"v":0.8},
{"r":31,"c":0,"v":0.6},{"r":31,"c":1,"v":0.2},{"r":31,"c":2,"v":-1.0},{"r":31,"c":3,"v":-1.2},{"r":31,"c":4,"v":-2.0},{"r":31,"c":5,"v":-2.6},{"r":31,"c":6,"v":-1.5},{"r":31,"c":7,"v":-0.4},{"r":31,"c":8,"v":0.4},{"r":31,"c":9,"v":0.8},{"r":31,"c":10,"v":0.9},{"r":31,"c":11,"v":1.2},{"r":31,"c":12,"v":1.4},{"r":31,"c":13,"v":1.4},{"r":31,"c":14,"v":1.0},{"r":31,"c":15,"v":1.3},{"r":31,"c":16,"v":2.2},{"r":31,"c":17,"v":2.5},{"r":31,"c":18,"v":2.9},{"r":31,"c":19,"v":2.9},{"r":31,"c":20,"v":2.9},{"r":31,"c":21,"v":2.9},{"r":31,"c":22,"v":0.9},{"r":31,"c":23,"v":0.8},{"r":31,"c":24,"v":0.5},{"r":31,"c":25,"v":0.0},{"r":31,"c":26,"v":-0.8},{"r":31,"c":27,"v":-0.8},{"r":31,"c":28,"v":-0.3},{"r":31,"c":29,"v":0.5},{"r":31,"c":30,"v":0.3},{"r":31,"c":31,"v":0.2},{"r":31,"c":32,"v":0.4},{"r":31,"c":33,"v":0.2},{"r":31,"c":34,"v":0.4},{"r":31,"c":35,"v":0.4},{"r":31,"c":36,"v":0.6},{"r":31,"c":37,"v":0.7}
],
"leftCircles": [
{"x":3.49,"y":29.6,"t":"1"},{"x":9.01,"y":29.6,"t":"2"},{"x":15.04,"y":29.6,"t":"3"},{"x":20.2,"y":29.6,"t":"4"}
],
"rightCircles": [
{"x":13.0,"y":38.4,"t":"1"},{"x":28.0,"y":38.4,"t":"2"},{"x":43.9,"y":38.4,"t":"3"},{"x":58.3,"y":38.4,"t":"4"}
],
"barTicks": [
{"x":19.0,"y":33.45,"y2":34.9},
{"x":6.18,"y":34.6,"y2":34.9},
{"x":12.57,"y":34.6,"y2":34.9},
{"x":25.36,"y":34.6,"y2":34.9},
{"x":31.75,"y":34.6,"y2":34.9}
]
},
"hconcat": [
{
"width": 523,
"height": 427,
"layer": [
{
"data": {"name": "grid"},
"mark": {"type": "rect"},
"encoding": {
"x": {"field": "c", "type": "ordinal", "axis": null},
"y": {"field": "r", "type": "ordinal", "axis": null},
"color": {
"field": "v", "type": "quantitative",
"scale": {
"domain": [-3,-2.5,-2,-1.5,-1,-0.5,0,0.5,1,1.5,2,2.5,3],
"range": ["#0a6ab0","#0a93d4","#14ace4","#45c0ec","#8fd3ee","#c8e6ef","#eef0d6","#f6e2b4","#f7c79c","#f2a685","#eb8477","#d8596a","#a62e46"],
"clamp": true
},
"legend": {
"orient": "none", "legendX": -3, "legendY": 446, "direction": "horizontal",
"gradientLength": 528, "gradientThickness": 20,
"gradientStrokeColor": "black", "gradientStrokeWidth": 2.5,
"values": [-3, 0, 3],
"labelExpr": "datum.value <= -3 ? '≤-3' : (datum.value >= 3 ? '≥3' : '0')",
"labelFontSize": 22, "labelColor": "black", "labelOffset": 8, "labelFont": "DejaVu Sans",
"title": "GND density (x10¹³ m⁻²)", "titleOrient": "bottom", "titleAnchor": "middle", "titleLimit": 1000,
"titleFontSize": 23, "titleFontWeight": "normal", "titleColor": "black", "titleFont": "DejaVu Sans", "titlePadding": 14
}
}
}
},
{
"encoding": {
"x": {"field": "x", "type": "quantitative", "scale": {"domain": [0, 38], "nice": false, "zero": false}, "axis": null},
"y": {"field": "y", "type": "quantitative", "scale": {"domain": [0, 32], "nice": false, "zero": false, "reverse": true}, "axis": null}
},
"layer": [
{
"data": {"values": [{"x": 0, "x2": 38, "y": 0, "y2": 32}]},
"mark": {"type": "rect", "filled": false, "stroke": "black", "strokeWidth": 4},
"encoding": {"x2": {"field": "x2"}, "y2": {"field": "y2"}}
},
{
"data": {"name": "barTicks"},
"mark": {"type": "rule", "stroke": "black", "strokeWidth": 1.5},
"encoding": {"y2": {"field": "y2"}}
},
{
"data": {"name": "leftCircles"},
"mark": {"type": "point", "shape": "circle", "filled": true, "fill": "white", "stroke": "black", "strokeWidth": 2, "size": 2500, "opacity": 1}
},
{
"data": {"name": "leftCircles"},
"mark": {"type": "text", "fontSize": 44, "font": "DejaVu Sans", "baseline": "middle", "align": "center", "dy": 2, "color": "black"},
"encoding": {"text": {"field": "t"}}
},
{
"data": {"values": [{"x": -0.51, "y": -4.5, "t": "A"}]},
"mark": {"type": "text", "fontSize": 44, "font": "DejaVu Sans", "baseline": "alphabetic", "align": "left", "color": "black"},
"encoding": {"text": {"field": "t"}}
},
{
"data": {"values": [{"x": -0.36, "y": -1.35, "t": "(001)[100] edge"}]},
"mark": {"type": "text", "fontSize": 28, "font": "DejaVu Sans", "baseline": "alphabetic", "align": "left", "color": "black"},
"encoding": {"text": {"field": "t"}}
}
]
}
],
"resolve": {"scale": {"x": "independent", "y": "independent"}}
},
{
"width": 620,
"height": 427,
"encoding": {
"x": {"field": "x", "type": "quantitative", "scale": {"domain": [0, 62], "nice": false, "zero": false}, "axis": null},
"y": {"field": "y", "type": "quantitative", "scale": {"domain": [0, 42.7], "nice": false, "zero": false, "reverse": true}, "axis": null}
},
"layer": [
{
"data": {"values": [
{"x": 1.7, "y": 13.2, "y2": 40.5},
{"x": 23.9, "y": 13.2, "y2": 40.5},
{"x": 32.0, "y": 13.2, "y2": 40.5},
{"x": 54.8, "y": -4.0, "y2": 40.5},
{"x": 61.7, "y": -4.0, "y2": 40.5}
]},
"mark": {"type": "rule", "stroke": "#555555", "strokeWidth": 1.6, "strokeDash": [15, 14]},
"encoding": {"y2": {"field": "y2"}}
},
{
"data": {"values": [
{"x": 5.7, "y": 11.7, "k": "T"},
{"x": 13.0, "y": 11.7, "k": "T"},
{"x": 20.2, "y": 11.7, "k": "T"},
{"x": 27.9, "y": 11.7, "k": "T"},
{"x": 27.9, "y": 19.05, "k": "perp"},
{"x": 36.0, "y": 19.05, "k": "perp"},
{"x": 43.5, "y": 19.05, "k": "perp"},
{"x": 51.1, "y": 19.05, "k": "perp"},
{"x": 58.55, "y": -0.15, "k": "perp"},
{"x": 58.55, "y": 4.65, "k": "perp"},
{"x": 58.55, "y": 9.45, "k": "perp"},
{"x": 58.55, "y": 14.25, "k": "perp"},
{"x": 58.55, "y": 19.05, "k": "perp"},
{"x": 58.55, "y": 23.85, "k": "perp"},
{"x": 58.55, "y": 28.65, "k": "perp"},
{"x": 58.55, "y": 33.45, "k": "perp"}
]},
"mark": {"type": "point", "filled": true, "color": "black", "opacity": 1, "size": 3025},
"encoding": {
"shape": {"field": "k", "type": "nominal", "legend": null,
"scale": {"domain": ["T", "perp"], "range": [
"M-1,-0.109H1V0.109H-1ZM-0.112,0.109H0.112V0.98H-0.112Z",
"M-1,-0.109H1V0.109H-1ZM-0.112,-0.98H0.112V-0.109H-0.112Z"
]}}
}
},
{
"data": {"values": [{"x": 21.2, "y": 6.8}, {"x": 42.75, "y": 6.8}]},
"mark": {"type": "point", "filled": false, "stroke": "#ff0000", "strokeWidth": 5, "strokeCap": "round", "strokeJoin": "round", "opacity": 1, "size": 8100,
"shape": "M-1,0L1,0M-0.56,-0.31L-1,0L-0.56,0.31M0.56,-0.31L1,0L0.56,0.31"}
},
{
"data": {"name": "rightCircles"},
"mark": {"type": "point", "shape": "circle", "filled": false, "stroke": "black", "strokeWidth": 1.5, "size": 2700, "opacity": 1}
},
{
"data": {"name": "rightCircles"},
"mark": {"type": "text", "fontSize": 44, "font": "DejaVu Sans", "baseline": "middle", "align": "center", "dy": 2, "color": "black"},
"encoding": {"text": {"field": "t"}}
},
{
"data": {"values": [{"x": 1.3, "y": -6.0, "t": "B"}]},
"mark": {"type": "text", "fontSize": 44, "font": "DejaVu Sans", "baseline": "alphabetic", "align": "left", "color": "black"},
"encoding": {"text": {"field": "t"}}
},
{
"data": {"values": [{"x": 32.6, "y": 2.8, "t": "Back stress"}]},
"mark": {"type": "text", "fontSize": 33, "font": "DejaVu Sans", "baseline": "alphabetic", "align": "center", "color": "#ff0000"},
"encoding": {"text": {"field": "t"}}
}
]
}
]
}
